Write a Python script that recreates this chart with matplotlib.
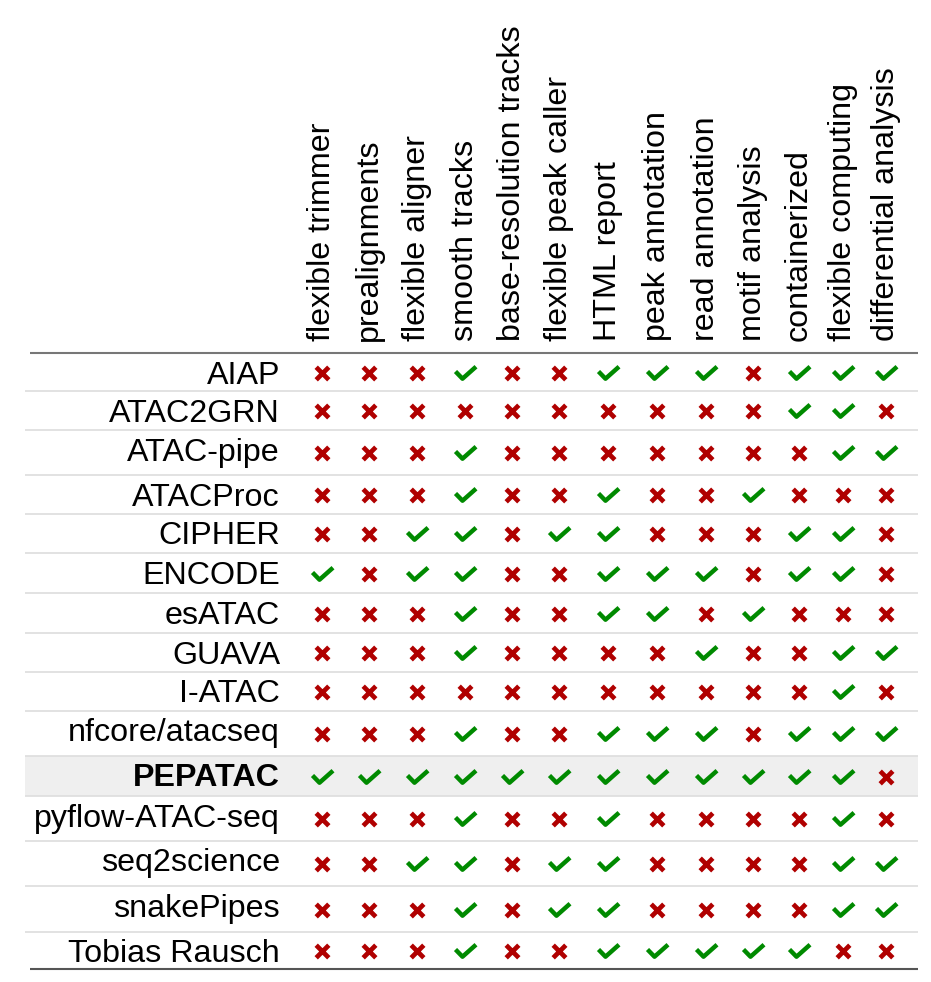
import matplotlib
matplotlib.use("Agg")
import matplotlib.pyplot as plt
from matplotlib.path import Path
import numpy as np

# ---------------- data ----------------
features = ["flexible trimmer", "prealignments", "flexible aligner", "smooth tracks",
            "base-resolution tracks", "flexible peak caller", "HTML report",
            "peak annotation", "read annotation", "motif analysis", "containerized",
            "flexible computing", "differential analysis"]

pipelines = ["AIAP", "ATAC2GRN", "ATAC-pipe", "ATACProc", "CIPHER", "ENCODE", "esATAC",
             "GUAVA", "I-ATAC", "nfcore/atacseq", "PEPATAC", "pyflow-ATAC-seq",
             "seq2science", "snakePipes", "Tobias Rausch"]

# 1 = has feature (check), 0 = lacks feature (cross)
AIAP            = [0, 0, 0, 1, 0, 0, 1, 1, 1, 0, 1, 1, 1]
ATAC2GRN        = [0, 0, 0, 0, 0, 0, 0, 0, 0, 0, 1, 1, 0]
ATAC_pipe       = [0, 0, 0, 1, 0, 0, 0, 0, 0, 0, 0, 1, 1]
ATACProc        = [0, 0, 0, 1, 0, 0, 1, 0, 0, 1, 0, 0, 0]
CIPHER          = [0, 0, 1, 1, 0, 1, 1, 0, 0, 0, 1, 1, 0]
ENCODE          = [1, 0, 1, 1, 0, 0, 1, 1, 1, 0, 1, 1, 0]
esATAC          = [0, 0, 0, 1, 0, 0, 1, 1, 0, 1, 0, 0, 0]
GUAVA           = [0, 0, 0, 1, 0, 0, 0, 0, 1, 0, 0, 1, 1]
I_ATAC          = [0, 0, 0, 0, 0, 0, 0, 0, 0, 0, 0, 1, 0]
nfcore_atacseq  = [0, 0, 0, 1, 0, 0, 1, 1, 1, 0, 1, 1, 1]
PEPATAC         = [1, 1, 1, 1, 1, 1, 1, 1, 1, 1, 1, 1, 0]
pyflow_ATAC_seq = [0, 0, 0, 1, 0, 0, 1, 0, 0, 0, 0, 1, 0]
seq2science     = [0, 0, 1, 1, 0, 1, 1, 0, 0, 0, 0, 1, 1]
snakePipes      = [0, 0, 0, 1, 0, 1, 1, 0, 0, 0, 0, 1, 1]
Tobias_Rausch   = [0, 0, 0, 1, 0, 0, 1, 1, 1, 1, 1, 0, 0]

highlight = "PEPATAC"

values = np.array([AIAP, ATAC2GRN, ATAC_pipe, ATACProc, CIPHER, ENCODE, esATAC, GUAVA,
                   I_ATAC, nfcore_atacseq, PEPATAC, pyflow_ATAC_seq, seq2science,
                   snakePipes, Tobias_Rausch])

# ---------------- layout (pixels) ----------------
W, H = 931, 982
table_top = 353
row_heights = [38, 39, 45, 39, 39, 40, 40, 39, 39, 45, 40, 45, 45, 46, 37]
col_left = 298.4
col_widths = [46.6, 47.8, 48.7, 46.7, 46.65, 48.8, 48.85, 48.85, 48.65, 46.65, 44.35, 43.2, 43.0]
label_right = 280
rule_x0, rule_x1 = 30, 918
sep_x0 = 25

row_edges = table_top + np.concatenate([[0], np.cumsum(row_heights)])
row_centers = (row_edges[:-1] + row_edges[1:]) / 2
col_edges = col_left + np.concatenate([[0], np.cumsum(col_widths)])
col_centers = (col_edges[:-1] + col_edges[1:]) / 2

FS = 23.2
FONT = ["Liberation Sans", "DejaVu Sans"]
RED = "#b00000"
GREEN = "#008a00"

fig = plt.figure(figsize=(W / 100, H / 100), dpi=100)
ax = fig.add_axes([0, 0, 1, 1])
ax.set_xlim(0, W)
ax.set_ylim(H, 0)
ax.axis("off")

# highlighted row background
hi = pipelines.index(highlight)
ax.fill_between([sep_x0, rule_x1], row_edges[hi], row_edges[hi + 1],
                color="#efefef", lw=0, zorder=0)

# separators
for i in range(1, len(pipelines)):
    ax.plot([sep_x0, rule_x1], [row_edges[i]] * 2, color="#dddddd", lw=1.2, zorder=1,
            solid_capstyle="butt")
ax.plot([rule_x0, rule_x1], [row_edges[0]] * 2, color="#777777", lw=1.5, zorder=2,
        solid_capstyle="butt")
ax.plot([rule_x0, rule_x1], [row_edges[-1]] * 2, color="#555555", lw=1.5, zorder=2,
        solid_capstyle="butt")

# headers
for j, f in enumerate(features):
    ax.text(col_centers[j], 341, f, rotation=90, ha="center", va="bottom",
            fontsize=FS, family=FONT, color="black")

# row labels
for i, p in enumerate(pipelines):
    ax.text(label_right, row_edges[i] + 30.5, p, ha="right", va="baseline",
            fontsize=FS, family=FONT, color="black",
            fontweight="bold" if p == highlight else "normal")

# marker shapes (y up)
check_path = Path([(-10.0, 2.0), (-3.0, -5.2), (10.5, 6.8)],
                  [Path.MOVETO, Path.LINETO, Path.LINETO])
cross_path = Path([(-6.3, -6.3), (6.3, 6.3), (-6.3, 6.3), (6.3, -6.3)],
                  [Path.MOVETO, Path.LINETO, Path.MOVETO, Path.LINETO])

def ms_for(path):
    return 2 * np.abs(path.vertices).max() * 0.72

X, Y = np.meshgrid(col_centers, row_centers + 0.5)
yes = values == 1
ax.plot(X[yes], Y[yes], ls="none", marker=check_path, ms=ms_for(check_path),
        mfc="none", mec=GREEN, mew=3.2, zorder=3)
ax.plot(X[~yes], Y[~yes], ls="none", marker=cross_path, ms=ms_for(cross_path),
        mfc="none", mec=RED, mew=3.4, zorder=3)

fig.savefig("out.png", dpi=100)
